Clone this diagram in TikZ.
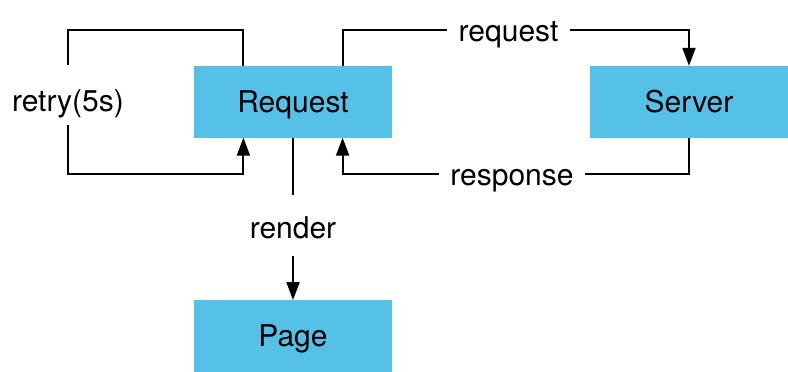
\documentclass[tikz,border=0pt]{standalone}
\usepackage{fontspec}
\setmainfont{TeX Gyre Heros}
\usetikzlibrary{arrows.meta,calc}
\definecolor{boxblue}{RGB}{86,193,231}
\tikzset{
  txt/.style={font=\fontsize{30}{36}\selectfont},
  block/.style={txt, fill=boxblue, draw=none, minimum width=198pt, minimum height=71.5pt,
    inner sep=0pt, text height=21pt, text depth=0pt},
  lbl/.style={txt, inner xsep=11pt, inner ysep=0pt, anchor=base},
  wire/.style={line width=2pt},
  flow/.style={wire, -{Triangle[length=18pt,width=13pt]}},
}
\begin{document}
\begin{tikzpicture}[x=1pt, y=-1pt]
  \useasboundingbox (0,0) rectangle (788,372);

  % blocks
  \node[block] (req)  at (293,101.75) {Request};
  \node[block] (srv)  at (689,101.75) {Server};
  \node[block] (page) at (293,336)    {Page};

  % attachment points on the Request block
  \coordinate (reqNL) at ($(req.north west)!.25!(req.north east)$);
  \coordinate (reqNR) at ($(req.north west)!.75!(req.north east)$);
  \coordinate (reqSL) at ($(req.south west)!.25!(req.south east)$);
  \coordinate (reqSR) at ($(req.south west)!.75!(req.south east)$);

  % labels, placed by baseline
  \node[lbl] (lreq)    at (508.5,41.5) {request};
  \node[lbl] (lresp)   at (512,185)    {response};
  \node[lbl] (lretry)  at (68,111)     {retry(5s)};
  \node[lbl] (lrender) at (293,238)    {render};

  % gap ends of the vertical labels
  \coordinate (retryT)  at (68,65);
  \coordinate (retryB)  at (68,125);
  \coordinate (renderT) at (293,195);
  \coordinate (renderB) at (293,256);

  % bend heights
  \coordinate (top) at (0,30);
  \coordinate (bot) at (0,173.5);

  % retry loop
  \draw[wire] (reqNL) -- (reqNL |- top) -| (retryT);
  \draw[flow] (retryB) -- (retryB |- bot) -| (reqSL);

  % request / response
  \draw[wire] (reqNR) |- (lreq.west |- top);
  \draw[flow] (lreq.east |- top) -| (srv.north);
  \draw[wire] (srv.south) |- (lresp.east |- bot);
  \draw[flow] (lresp.west |- bot) -| (reqSR);

  % render
  \draw[wire] (req.south) -- (renderT);
  \draw[flow] (renderB) -- (page.north);
\end{tikzpicture}
\end{document}
